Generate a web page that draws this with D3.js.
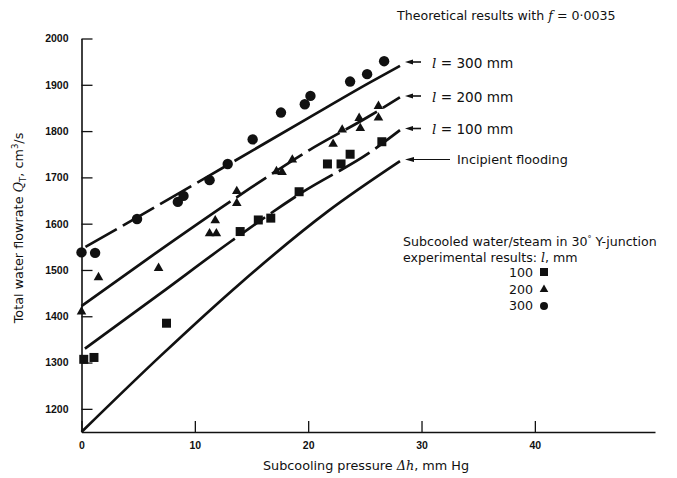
<!DOCTYPE html>
<html>
<head>
<meta charset="utf-8">
<script src="https://cdn.jsdelivr.net/npm/d3@7"></script>
<style>
  body { margin: 0; background: #fff; }
  svg text { font-family: "DejaVu Sans", "Liberation Sans", Arial, sans-serif; fill: #111; }
</style>
</head>
<body>
<div id="chart"></div>
<script>
// experimental points, l = 100 / 200 / 300 mm  [dh, Qt]
const pts100 = [[0.2,1307],[1.1,1311],[7.5,1385],[14.0,1583],[15.6,1608],[16.7,1612],
  [19.2,1669],[21.7,1729],[22.9,1729],[23.7,1750],[26.5,1777]];
const pts200 = [[0,1411],[1.5,1485],[6.8,1505],[11.3,1580],[11.9,1580],[11.8,1608],
  [13.7,1645],[13.7,1671],[17.2,1714],[17.7,1712],[18.6,1739],[22.2,1773],[23.0,1804],
  [24.5,1829],[24.6,1807],[26.2,1855],[26.2,1830]];
const pts300 = [[0,1538],[1.2,1537],[4.9,1610],[8.5,1647],[9.0,1660],[11.3,1694],
  [12.9,1729],[15.1,1782],[17.6,1840],[19.7,1858],[20.2,1876],[23.7,1907],[25.2,1923],[26.7,1951]];

// theoretical curves (f = 0.0035)
const theory300 = [[0.35,1550],[5.3,1619],[13.4,1734],[20,1828],[25.3,1903],[28.1,1941]];
const theory200 = [[0,1422],[6.3,1532],[14.3,1667],[20.1,1759],[25.3,1831],[28.1,1873]];
const theory100 = [[0.3,1330],[7,1450],[13.2,1562],[19.3,1665],[25.8,1760],[28.1,1802]];
const incipient = [[0,1150],[7,1315],[14,1471],[21.7,1626],[28.1,1735]];

const xTicks = [0,10,20,30,40];
const yTicks = [1200,1300,1400,1500,1600,1700,1800,1900,2000];

var width = 677, height = 478;

var svg = d3.select("#chart").append("svg")
  .attr("width", width)
  .attr("height", height);

var x = d3.scaleLinear().domain([0, 50.6]).range([81.5, 655]);
var y = d3.scaleLinear().domain([1150, 2000]).range([432, 38.5]);

// axes (ticks point inward)
var xAxis = svg.append("g")
  .attr("transform", "translate(0," + y(1150) + ")")
  .call(d3.axisBottom(x).tickValues(xTicks).tickFormat(d3.format("d"))
    .tickSizeInner(-11).tickSizeOuter(0).tickPadding(10));
var yAxis = svg.append("g")
  .attr("transform", "translate(" + x(0) + ",0)")
  .call(d3.axisLeft(y).tickValues(yTicks).tickFormat(d3.format("d"))
    .tickSizeInner(-11).tickSizeOuter(0).tickPadding(13));

[xAxis, yAxis].forEach(g => {
  g.select(".domain").attr("stroke", "#111").attr("stroke-width", 1.6);
  g.selectAll(".tick line").attr("stroke", "#111").attr("stroke-width", 1.3);
  g.selectAll(".tick text").attr("font-size", 10.5).attr("fill", "#111")
    .style("font-family", "'Liberation Sans Narrow', 'Liberation Sans', Arial, sans-serif")
    .style("font-weight", "bold");
});

// theoretical curves
var line = d3.line().x(d => x(d[0])).y(d => y(d[1])).curve(d3.curveMonotoneX);

var curves = [
  { data: theory300, dash: "36,7,36,7,36,7,36,7,400,1" },
  { data: theory200, dash: "182,7,36,7,36,7,36,7,36,7,36,7" },
  { data: theory100, dash: "186,7,30,7,30,7,36,7,36,7,36,7" },
  { data: incipient, dash: null }
];
curves.forEach(c => {
  svg.append("path")
    .attr("d", line(c.data))
    .attr("fill", "none")
    .attr("stroke", "#111")
    .attr("stroke-width", 2.7)
    .attr("stroke-dasharray", c.dash);
});

// experimental markers
svg.append("g").selectAll("rect")
  .data(pts100)
  .enter().append("rect")
  .attr("x", d => x(d[0]) - 4.5)
  .attr("y", d => y(d[1]) - 4.5)
  .attr("width", 9)
  .attr("height", 9)
  .attr("fill", "#111");

var tri = d3.symbol().type(d3.symbolTriangle).size(40);
svg.append("g").selectAll("path")
  .data(pts200)
  .enter().append("path")
  .attr("d", tri)
  .attr("transform", d => "translate(" + x(d[0]) + "," + (y(d[1]) + 0.5) + ")")
  .attr("fill", "#111");

svg.append("g").selectAll("circle")
  .data(pts300)
  .enter().append("circle")
  .attr("cx", d => x(d[0]))
  .attr("cy", d => y(d[1]))
  .attr("r", 5.2)
  .attr("fill", "#111");

// right-hand annotations
var ell = "<tspan font-style='italic' font-family='DejaVu Serif'>l</tspan>";
svg.append("text")
  .attr("x", 397).attr("y", 20).attr("font-size", 12.6)
  .html("Theoretical results with <tspan font-style='italic' font-family='DejaVu Serif'>f</tspan> = 0·0035");

var labs = [
  { yy: 62, txt: ell + " = 300 mm" },
  { yy: 96, txt: ell + " = 200 mm" },
  { yy: 128.5, txt: ell + " = 100 mm" }
];
labs.forEach(l => {
  svg.append("line").attr("x1", 410).attr("x2", 421).attr("y1", l.yy).attr("y2", l.yy)
    .attr("stroke", "#111").attr("stroke-width", 1.6);
  svg.append("path").attr("d", "M405," + l.yy + "L413," + (l.yy - 2.6) + "L413," + (l.yy + 2.6) + "Z")
    .attr("fill", "#111");
  svg.append("text").attr("x", 432).attr("y", l.yy + 5.5).attr("font-size", 13.6).html(l.txt);
});
svg.append("line").attr("x1", 410).attr("x2", 450).attr("y1", 159.5).attr("y2", 159.5)
  .attr("stroke", "#111").attr("stroke-width", 1);
svg.append("path").attr("d", "M405,159.5L414,157L414,162Z").attr("fill", "#111");
svg.append("text").attr("x", 457).attr("y", 164).attr("font-size", 12.8).text("Incipient flooding");

// legend for experimental data
svg.append("text").attr("x", 403).attr("y", 245.5).attr("font-size", 12.6)
  .html("Subcooled water/steam in 30<tspan dy='-4' font-size='8'>°</tspan><tspan dy='4'> Y-junction</tspan>");
svg.append("text").attr("x", 403).attr("y", 262).attr("font-size", 12.6)
  .html("experimental results: " + ell + ", mm");

var legY = [277, 293.5, 310];
["100", "200", "300"].forEach((t, i) => {
  svg.append("text").attr("x", 533).attr("y", legY[i]).attr("font-size", 12.6)
    .attr("text-anchor", "end").text(t);
});
svg.append("rect").attr("x", 540).attr("y", legY[0] - 9).attr("width", 8).attr("height", 8).attr("fill", "#111");
svg.append("path").attr("d", tri.size(32)).attr("transform", "translate(544," + (legY[1] - 4) + ")").attr("fill", "#111");
svg.append("circle").attr("cx", 544).attr("cy", legY[2] - 4).attr("r", 4).attr("fill", "#111");

// axis titles
svg.append("text")
  .attr("transform", "translate(23,228) rotate(-90)")
  .attr("text-anchor", "middle").attr("font-size", 12.8)
  .html("Total water flowrate <tspan font-style='italic' font-family='DejaVu Serif'>Q</tspan><tspan font-size='8.5' dy='3'>T</tspan><tspan dy='-3'>, cm</tspan><tspan font-size='8.5' dy='-5'>3</tspan><tspan dy='5'>/s</tspan>");

svg.append("text")
  .attr("x", 366).attr("y", 470).attr("text-anchor", "middle").attr("font-size", 12.8)
  .html("Subcooling pressure <tspan font-style='italic' font-family='DejaVu Serif'>Δh</tspan>, mm Hg");
</script>
</body>
</html>
